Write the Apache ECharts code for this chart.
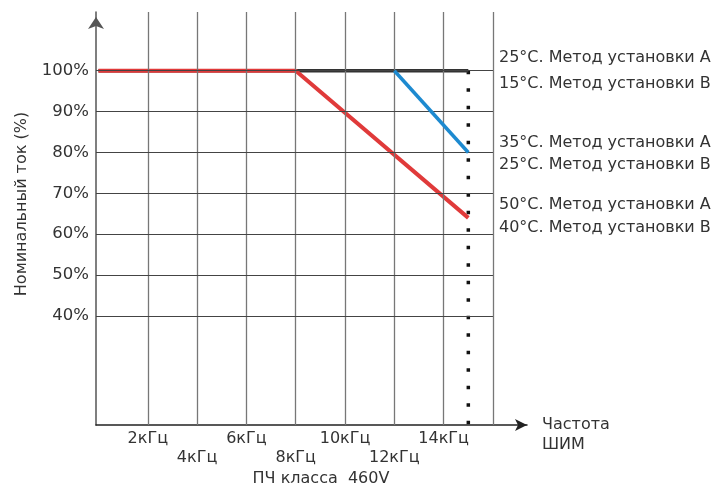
<!DOCTYPE html>
<html>
<head>
<meta charset="utf-8">
<script src="https://cdn.jsdelivr.net/npm/echarts@6/dist/echarts.min.js"></script>
<style>
html,body{margin:0;padding:0;background:#fff;}
#chart{width:715px;height:488px;}
</style>
</head>
<body>
<div id="chart"></div>
<script>
// ---- data ----
const xTicks = [2, 4, 6, 8, 10, 12, 14, 16];           // kHz
const yTicks = [40, 50, 60, 70, 80, 90, 100];          // %
const freqBlack = [0, 15];
const valBlack = [100, 100];
const freqRed = [0, 8, 15];
const valRed = [100, 100, 64];
const freqBlue = [12, 15];
const valBlue = [100, 80];
const limitFreq = 15;
const curveLabels = [
  ['25°C. Метод установки А', 58],
  ['15°C. Метод установки В', 84],
  ['35°C. Метод установки А', 143],
  ['25°C. Метод установки В', 165],
  ['50°C. Метод установки А', 205],
  ['40°C. Метод установки В', 228]
];

// ---- axes ranges ----
const X_MIN = -0.1, X_MAX = 17.38, X_GRID_END = 16;
const Y_MIN = 13.33, Y_MAX = 114.36;

const FONT = 'DejaVu Sans';
const TXT = '#333';

const zip = (xs, ys) => xs.map((x, i) => [x, ys[i]]);

const vLines = xTicks.map(x => [{coord: [x, Y_MIN]}, {coord: [x, Y_MAX]}]);
const hLines = yTicks.map(y => [{coord: [X_MIN, y]}, {coord: [X_GRID_END, y]}]);

const chart = echarts.init(document.getElementById('chart'), null, {renderer: 'canvas'});
chart.setOption({
  animation: false,
  backgroundColor: '#fff',
  grid: {left: 96, right: 188, top: 12, bottom: 63, containLabel: false},
  xAxis: {
    type: 'value', min: X_MIN, max: X_MAX,
    splitLine: {show: false},
    axisTick: {show: false},
    axisLine: {show: true, onZero: false, symbol: ['none', 'arrow'], symbolSize: [9, 12],
      lineStyle: {color: '#222', width: 1.5}},
    axisLabel: {
      customValues: xTicks, margin: 4, fontFamily: FONT, fontSize: 16, color: TXT, lineHeight: 19,
      formatter: v => ((v / 2) % 2 === 1 ? '' : '\n') + v + 'кГц'
    }
  },
  yAxis: {
    type: 'value', min: Y_MIN, max: Y_MAX,
    splitLine: {show: false},
    axisTick: {show: false},
    axisLine: {show: true, onZero: false, symbol: ['none', 'arrow'], symbolSize: [12, 12], symbolOffset: [0, -5],
      lineStyle: {color: '#555', width: 1.5}},
    axisLabel: {customValues: yTicks, margin: 7, fontFamily: FONT, fontSize: 16.5, color: TXT,
      formatter: '{value}%'}
  },
  series: [
    {
      type: 'line', data: [], z: 1, silent: true,
      markLine: {
        silent: true, symbol: ['none', 'none'], label: {show: false},
        lineStyle: {type: 'solid', color: '#777', width: 1.3},
        data: vLines
      }
    },
    {
      type: 'line', data: [], z: 1, silent: true,
      markLine: {
        silent: true, symbol: ['none', 'none'], label: {show: false},
        lineStyle: {type: 'solid', color: '#444', width: 1},
        data: hLines
      }
    },
    {
      type: 'line', data: zip([limitFreq, limitFreq], [100, Y_MIN]), z: 2, showSymbol: false,
      lineStyle: {color: '#111', width: 3.5, type: [3.5, 14], cap: 'butt'}
    },
    {
      type: 'line', data: zip(freqBlack, valBlack), z: 3, showSymbol: false,
      lineStyle: {color: '#333', width: 3.5}
    },
    {
      type: 'line', data: zip(freqRed, valRed), z: 4, showSymbol: false,
      lineStyle: {color: '#e03a3a', width: 4}
    },
    {
      type: 'line', data: zip(freqBlue, valBlue), z: 5, showSymbol: false,
      lineStyle: {color: '#1d8ad0', width: 3.5}
    }
  ],
  graphic: [
    {type: 'text', x: 22, y: 204, rotation: Math.PI / 2,
      style: {text: 'Номинальный ток (%)', font: '16px "DejaVu Sans"', fill: TXT, align: 'center', verticalAlign: 'middle'}},
    {type: 'text', x: 542, y: 425,
      style: {text: 'Частота', font: '16px "DejaVu Sans"', fill: TXT, align: 'left', verticalAlign: 'middle'}},
    {type: 'text', x: 542, y: 445,
      style: {text: 'ШИМ', font: '16px "DejaVu Sans"', fill: TXT, align: 'left', verticalAlign: 'middle'}},
    {type: 'text', x: 321, y: 479,
      style: {text: 'ПЧ класса  460V', font: '16px "DejaVu Sans"', fill: TXT, align: 'center', verticalAlign: 'middle'}}
  ].concat(curveLabels.map(([t, y]) => ({
    type: 'text', x: 499, y: y,
    style: {text: t, font: '16px "DejaVu Sans"', fill: TXT, align: 'left', verticalAlign: 'middle'}
  })))
});
</script>
</body>
</html>
